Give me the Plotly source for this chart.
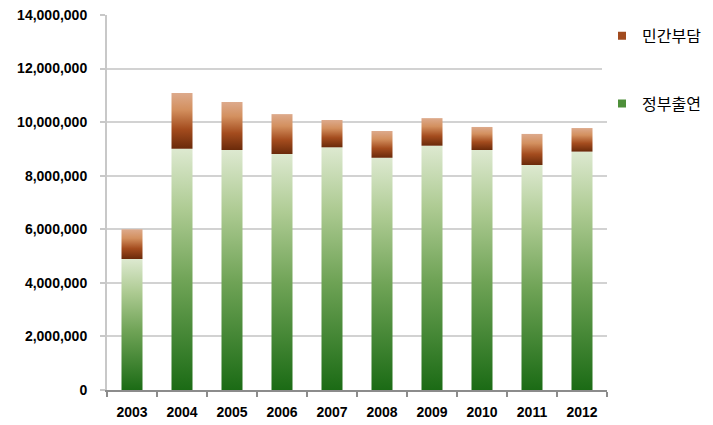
import plotly.graph_objects as go

years = ["2003", "2004", "2005", "2006", "2007", "2008", "2009", "2010", "2011", "2012"]
gov = [4890000, 9010000, 8960000, 8810000, 9060000, 8670000, 9120000, 8960000, 8400000, 8900000]
priv = [1110000, 2080000, 1790000, 1490000, 1020000, 1000000, 1030000, 860000, 1160000, 880000]
y_ticks = [0, 2000000, 4000000, 6000000, 8000000, 10000000, 12000000, 14000000]

name_priv = "민간부담"
name_gov = "정부출연"

green_scale = [[0, "#1b6b15"], [0.45, "#6fa356"], [0.75, "#aecb93"], [1, "#dde9d0"]]
brown_scale = [[0, "#6a2a0a"], [0.35, "#a44c1e"], [0.7, "#d3905f"], [1, "#ddaa8c"]]
half = 0.21

fig = go.Figure()

for i, (g, p) in enumerate(zip(gov, priv)):
    x0, x1 = i - half, i + half
    fig.add_trace(go.Scatter(
        x=[x0, x1, x1, x0, x0], y=[0, 0, g, g, 0],
        mode="lines", line=dict(width=0), fill="toself",
        fillgradient=dict(type="vertical", colorscale=green_scale),
        showlegend=False, hoverinfo="skip"))
    fig.add_trace(go.Scatter(
        x=[x0, x1, x1, x0, x0], y=[g, g, g + p, g + p, g],
        mode="lines", line=dict(width=0), fill="toself",
        fillgradient=dict(type="vertical", colorscale=brown_scale),
        showlegend=False, hoverinfo="skip"))

fig.add_trace(go.Scatter(x=[None], y=[None], mode="markers", name=name_priv,
                         legendgroup="a",
                         marker=dict(symbol="square", size=8, color="#a14b1f")))
fig.add_trace(go.Scatter(x=[None], y=[None], mode="markers", name=name_gov,
                         legendgroup="b",
                         marker=dict(symbol="square", size=8, color="#4e8f3a")))

fig.update_layout(
    width=713, height=425,
    margin=dict(l=107, r=106, t=15, b=35, autoexpand=False),
    plot_bgcolor="white", paper_bgcolor="white",
    font=dict(family="Liberation Sans, Arial, sans-serif", color="#000"),
    legend=dict(x=0.99, y=0.99, xanchor="left", yanchor="top",
                font=dict(family="Noto Sans CJK KR", size=16, color="#000"),
                tracegroupgap=44, itemwidth=30, traceorder="grouped"),
    xaxis=dict(range=[-0.5, 9.5], tickmode="array", tickvals=list(range(len(years))),
               ticktext=years, ticks="", showgrid=False, zeroline=False,
               showline=True, linecolor="#8c8c8c", linewidth=2,
               ticklabelstandoff=8, automargin=False,
               tickfont=dict(size=14, weight="bold"),
               minor=dict(tickmode="linear", tick0=0.5, dtick=1, ticks="outside",
                          ticklen=5, tickcolor="#8c8c8c", tickwidth=1.5, showgrid=False)),
    yaxis=dict(range=[0, 14000000], tickmode="array", tickvals=y_ticks,
               tickformat=",d", showgrid=True, gridcolor="#d2d2d2", gridwidth=2,
               zeroline=False, showline=True, linecolor="#c8c8c8", linewidth=2,
               ticks="outside", ticklen=5, tickcolor="#c8c8c8", tickwidth=1.5,
               ticklabelstandoff=10, automargin=False,
               tickfont=dict(size=14, weight="bold")),
)

fig.write_html("out.html")
